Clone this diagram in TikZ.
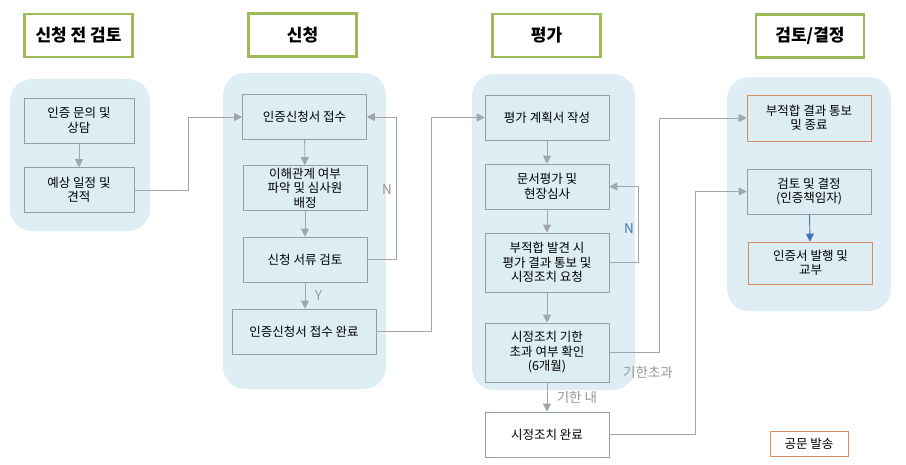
\documentclass[tikz,border=0pt]{standalone}
\usepackage{fontspec}
\setmainfont{Noto Sans CJK KR}
\definecolor{stagegreen}{RGB}{155, 187, 89}
\definecolor{zonefill}{RGB}{222, 238, 244}
\definecolor{boxfill}{RGB}{220, 237, 244}
\definecolor{boxline}{RGB}{143, 160, 168}
\definecolor{flowgray}{RGB}{160, 166, 172}
\definecolor{notegray}{RGB}{150, 150, 150}
\definecolor{endorange}{RGB}{214, 140, 100}
\definecolor{flowblue}{RGB}{68, 114, 196}
\usetikzlibrary{arrows.meta, positioning}

\begin{document}
\begin{tikzpicture}[x=1pt, y=-1pt,
        stage/.style={draw=stagegreen, line width=2.6pt, fill=white, minimum width=108pt, minimum height=43pt, font=\fontsize{17}{20}\selectfont\bfseries},
        zone/.style={fill=zonefill, rounded corners=22pt},
        task/.style={draw=boxline, fill=boxfill, minimum width=124pt, minimum height=45pt, align=center, font=\fontsize{12.5}{14.5}\selectfont, line width=0.6pt, inner sep=1pt},
        endtask/.style={task, draw=endorange},
        flow/.style={draw=flowgray, line width=0.9pt, -{Triangle[length=8pt, width=8pt]}},
        note/.style={font=\fontsize{13.5}{16}\selectfont, text=notegray},
      ]
      \useasboundingbox (0,0) rectangle (906,464);
      % stage headers
      \node[stage] (prehead) at (78.5, 35.5) {신청 전 검토};
      \node[stage] (apphead) at (302.5, 35) {신청};
      \node[stage] (evalhead) at (546.5, 35.5) {평가};
      \node[stage] (dechead) at (810, 36) {검토/결정};
      % background zones
      \fill[zone] (10, 79) rectangle (150, 231);
      \fill[zone] (223, 73) rectangle (386, 389);
      \fill[zone] (472, 74) rectangle (635, 390);
      \fill[zone] (727, 77) rectangle (891, 311);
      % pre-application
      \node[task, minimum width=110pt] (inquiry) at (79, 120.5) {인증 문의 및\\상담};
      \node[task, minimum width=110pt] (estimate) at (79, 190) {예상 일정 및\\견적};
      % application
      \node[task] (recv) at (304.5, 117) {인증신청서 접수};
      \node[task] (assign) at (305, 188) {이해관계 여부\\파악 및 심사원\\배정};
      \node[task] (check) at (305, 259.5) {신청 서류 검토};
      \node[task, minimum width=144pt] (recvdone) at (304, 331.5) {인증신청서 접수 완료};
      % evaluation
      \node[task] (plan) at (547, 117.5) {평가 계획서 작성};
      \node[task] (doc) at (547, 186.5) {문서평가 및\\현장심사};
      \node[task, minimum height=59pt] (nonconf) at (547, 262.5) {부적합 발견 시\\평가 결과 통보 및\\시정조치 요청};
      \node[task, minimum height=59pt] (deadline) at (547, 352.5) {시정조치 기한\\초과 여부 확인\\(6개월)};
      \node[task, fill=white] (fixdone) at (547, 434.5) {시정조치 완료};
      % decision
      \node[endtask, minimum height=46pt] (fail) at (809, 118) {부적합 결과 통보\\및 종료};
      \node[task] (decide) at (809, 191.5) {검토 및 결정\\(인증책임자)};
      \node[endtask, minimum height=42pt] (issue) at (810.5, 263) {인증서 발행 및\\교부};
      \node[endtask, fill=white, minimum width=78pt, minimum height=25pt] (letter) at (809, 443.5) {공문 발송};
      % connectors
      \draw[flow] (inquiry) -- (estimate);
      \draw[flow] (estimate.east) -- ++(54, 0) |- (recv.west);
      \draw[flow] (recv) -- (assign);
      \draw[flow] (assign) -- (check);
      \draw[flow] (check.east) -- ++(29, 0) |- (recv.east);
      \draw[flow] (check) -- node[note, right=6pt] {Y} (check |- recvdone.north);
      \draw[flow] (recvdone.east) -- ++(55, 0) |- (plan.west);
      \draw[flow] (plan) -- (doc);
      \draw[flow] (doc) -- (nonconf);
      \draw[flow] (nonconf.east) -- ++(29, 0) |- (doc.east);
      \draw[flow] (nonconf) -- (deadline);
      \draw[flow] (deadline.east) -- ++(50, 0) |- (fail.west);
      \draw[flow] (deadline) -- node[note, right=6pt] {기한 내} (fixdone);
      \draw[flow] (fixdone.east) -- ++(86, 0) |- (decide.west);
      \draw[draw=flowblue, line width=0.9pt, -{Triangle[length=8pt, width=8pt]}] (decide) -- (issue);
      % branch labels
      \node[note] (nfirst) at (387, 190) {N};
      \node[note, text=flowblue] (nsecond) at (629, 229) {N};
      \node[note] (overdue) at (648, 372) {기한초과};
      \end{tikzpicture}
\end{document}
